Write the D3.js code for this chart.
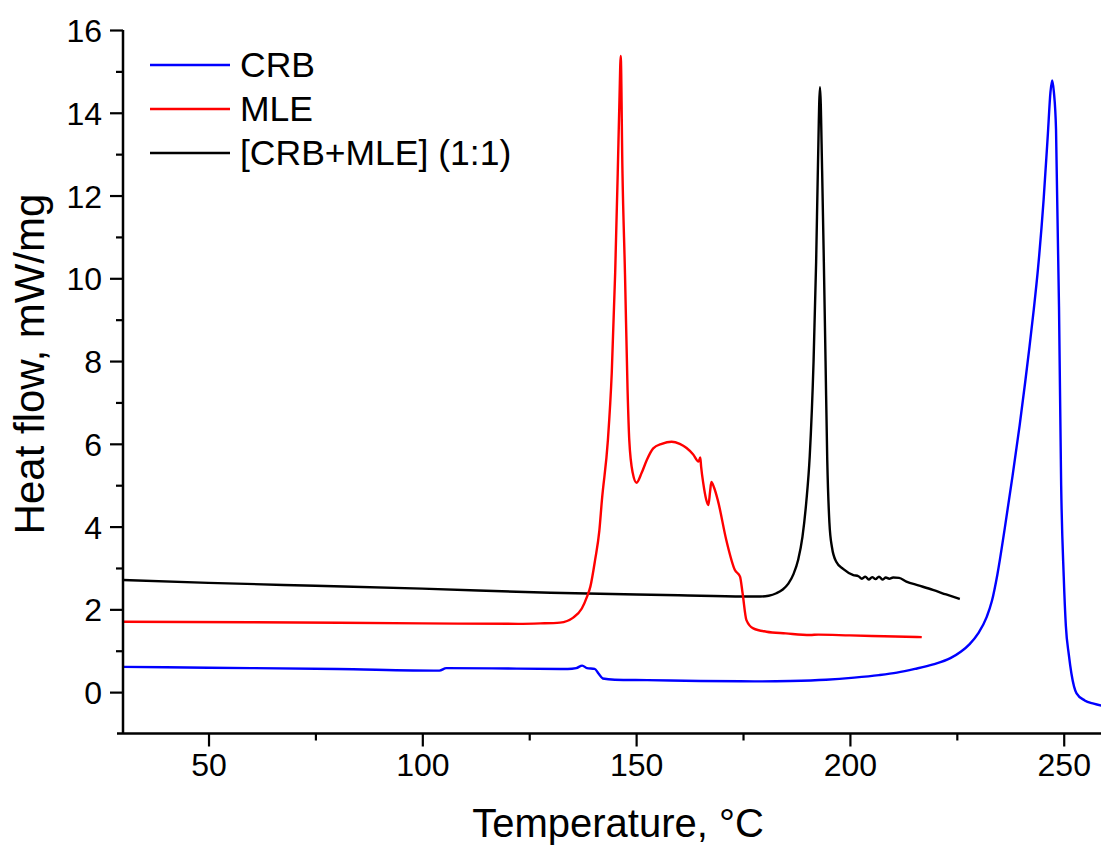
<!DOCTYPE html>
<html><head><meta charset="utf-8">
<script src="https://cdn.jsdelivr.net/npm/d3@7"></script>
<style>
html,body{margin:0;padding:0;background:#fff;}
text{font-family:"Liberation Sans",Arial,sans-serif;fill:#000;}
</style></head>
<body><svg id="c" width="1101" height="846"></svg>
<script>
// ---- data ----
const crbTemp = [30, 50, 80, 104, 105.6, 120, 134, 136, 137.4, 138.5, 140.3, 141.2, 142.2, 145, 152.6, 165, 177.6, 186, 194.4, 201, 206.8, 211, 215.2, 219.5, 223.5, 226, 228, 230, 232, 233.2, 234.5, 236.2, 238, 239.7, 241, 242, 243, 244, 245.3, 246.3, 246.9, 247.3, 247.7, 248.2, 248.9, 249.4, 250.0, 250.5, 251.2, 251.8, 253, 254.9, 257, 260];
const crbFlow = [0.61, 0.59, 0.56, 0.52, 0.58, 0.57, 0.56, 0.58, 0.64, 0.58, 0.56, 0.45, 0.33, 0.30, 0.29, 0.27, 0.26, 0.27, 0.30, 0.35, 0.41, 0.47, 0.56, 0.67, 0.82, 0.98, 1.16, 1.42, 1.82, 2.2, 2.85, 3.95, 5.2, 6.45, 7.5, 8.35, 9.25, 10.25, 11.9, 13.5, 14.5, 14.78, 14.5, 13.6, 9.3, 5.0, 2.8, 1.6, 0.9, 0.45, -0.03, -0.2, -0.28, -0.35];

const mleTemp = [30, 60, 100, 122.4, 127.6, 132.2, 135.3, 137.3, 138.5, 139.3, 140.4, 141.4, 142.0, 143.4, 144.3, 145.1, 145.7, 146.1, 146.4, 146.8, 147.4, 148.0, 148.4, 149.2, 150.1, 151.3, 152.5, 154, 156, 158.3, 160.2, 161.8, 163.3, 164.6, 165.0, 165.2, 165.7, 166.4, 166.9, 167.3, 167.6, 168.2, 169.1, 171.1, 173.1, 174.3, 174.9, 175.8, 177.4, 180.5, 185, 190.7, 192.6, 200, 208, 216.8];
const mleFlow = [1.70, 1.69, 1.66, 1.65, 1.66, 1.68, 1.80, 2.02, 2.30, 2.55, 3.19, 3.9, 4.64, 6.09, 7.71, 10.13, 12.54, 14.3, 15.37, 12.6, 10.1, 7.3, 6.09, 5.3, 5.06, 5.3, 5.61, 5.89, 6.0, 6.05, 6.0, 5.9, 5.75, 5.57, 5.67, 5.45, 5.05, 4.65, 4.52, 4.85, 5.08, 4.95, 4.64, 3.67, 2.95, 2.79, 2.39, 1.74, 1.54, 1.46, 1.42, 1.38, 1.39, 1.37, 1.35, 1.33];

const mixTemp = [30, 50, 75, 100, 130, 160, 175.1, 179, 181, 182.8, 184.3, 185.6, 186.8, 187.9, 188.9, 189.8, 190.6, 191.5, 192.1, 192.5, 193.0, 193.5, 193.9, 194.3, 194.7, 195.2, 195.8, 196.8, 198.4, 200.8, 202.0, 202.8, 203.6, 204.4, 205.2, 206.0, 206.8, 207.6, 208.4, 209.2, 210.1, 211.5, 213.2, 216, 219.4, 222.5, 225.7];
const mixFlow = [2.71, 2.64, 2.57, 2.50, 2.40, 2.34, 2.31, 2.31, 2.33, 2.39, 2.48, 2.62, 2.85, 3.2, 3.75, 4.6, 5.7, 8.0, 10.4, 12.6, 14.62, 12.6, 10.4, 8.0, 5.6, 4.1, 3.5, 3.15, 2.98, 2.83, 2.80, 2.74, 2.79, 2.72, 2.78, 2.73, 2.79, 2.72, 2.77, 2.74, 2.77, 2.76, 2.67, 2.58, 2.47, 2.36, 2.25];

const seriesNames = ["CRB", "MLE", "[CRB+MLE] (1:1)"];
const seriesColors = ["#0000ff", "#ff0000", "#000000"];
const xTickValues = [50, 100, 150, 200, 250];
const xMinorTicks = [75, 125, 175, 225];
const yTickValues = [0, 2, 4, 6, 8, 10, 12, 14, 16];
const yMinorTicks = [1, 3, 5, 7, 9, 11, 13, 15];

// ---- chart ----
const svg = d3.select("#c");
const x = d3.scaleLinear().domain([30, 260]).range([123, 123 + 230 * 4.276]);
const y = d3.scaleLinear().domain([-1, 16]).range([733.5, 30]);

const series = [
  {T: crbTemp, V: crbFlow},
  {T: mleTemp, V: mleFlow},
  {T: mixTemp, V: mixFlow}
];
const line = d3.line().x(d => x(d[0])).y(d => y(d[1])).curve(d3.curveMonotoneX);

[2, 1, 0].forEach(i => {
  const s = series[i];
  const pts = s.T.map((t, k) => [t, s.V[k]]);
  svg.append("path").attr("d", line(pts)).attr("fill", "none")
    .attr("stroke", seriesColors[i]).attr("stroke-width", 2.4)
    .attr("stroke-linejoin", "round");
});

// axes
const axisG = svg.append("g");
const xAxis = d3.axisBottom(x).tickValues(xTickValues).tickSize(13).tickSizeOuter(0).tickPadding(7).tickFormat(d3.format("d"));
const gx = axisG.append("g").attr("transform", `translate(0,${y(-1)})`).call(xAxis);
gx.select(".domain").attr("d", `M${x(30) - 6},0H1101`);
const xMinor = d3.axisBottom(x).tickValues(xMinorTicks).tickSize(7).tickFormat("");
const gxm = axisG.append("g").attr("transform", `translate(0,${y(-1)})`).call(xMinor);
gxm.select(".domain").remove();

const yAxis = d3.axisLeft(y).tickValues(yTickValues).tickSize(13).tickSizeOuter(0).tickPadding(8).tickFormat(d3.format("d"));
const gy = axisG.append("g").attr("transform", `translate(${x(30)},0)`).call(yAxis);
gy.select(".domain").attr("d", `M0,${y(16)}V${y(-1)}`);
const yMinor = d3.axisLeft(y).tickValues(yMinorTicks).tickSize(7).tickFormat("");
const gym = axisG.append("g").attr("transform", `translate(${x(30)},0)`).call(yMinor);
gym.select(".domain").remove();

axisG.selectAll(".domain").attr("stroke", "#000").attr("stroke-width", 2.5);
axisG.selectAll(".tick line").attr("stroke", "#000").attr("stroke-width", 2.2);
axisG.selectAll("g").attr("font-size", 32).attr("font-family", "Liberation Sans, Arial, sans-serif");
axisG.selectAll(".tick text").attr("font-size", 32).attr("fill", "#000");
gy.selectAll(".tick text").attr("dy", "0.36em");

// axis titles
svg.append("text").attr("x", 618).attr("y", 837).attr("text-anchor", "middle")
  .attr("font-size", 40).text("Temperature, \u00B0C");
svg.append("text").attr("transform", "translate(44,364) rotate(-90)").attr("text-anchor", "middle")
  .attr("font-size", 42).text("Heat flow, mW/mg");

// legend
const leg = svg.append("g");
seriesNames.forEach((n, i) => {
  const ly = 65 + i * 44;
  leg.append("line").attr("x1", 150).attr("x2", 230).attr("y1", ly).attr("y2", ly)
    .attr("stroke", seriesColors[i]).attr("stroke-width", 2.4);
  leg.append("text").attr("x", 240).attr("y", ly + 12).attr("font-size", 35.5).text(n);
});
</script>
</body></html>
